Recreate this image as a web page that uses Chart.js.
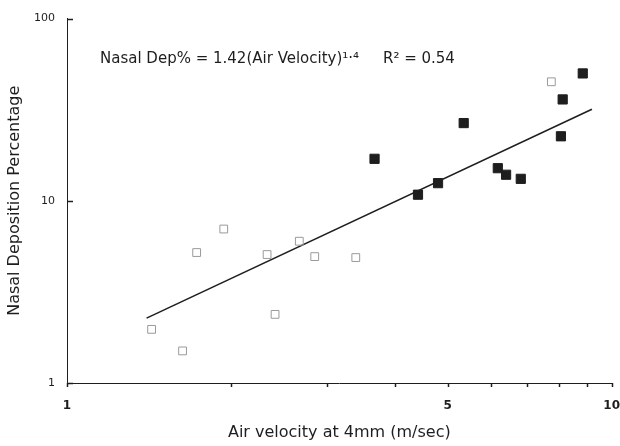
<!DOCTYPE html>
<html>
<head>
<meta charset="utf-8">
<script src="https://cdn.jsdelivr.net/npm/chart.js@4.4.1/dist/chart.umd.min.js"></script>
<style>
  html, body { margin: 0; padding: 0; background: #fff; }
  #wrap { width: 620px; height: 446px; }
</style>
</head>
<body>
<div id="wrap"><canvas id="c" width="620" height="446"></canvas></div>
<script>
// ---- data ----
const filledX = [3.67, 5.35, 4.41, 4.80, 6.18, 6.40, 6.81, 8.13, 8.07, 8.85];
const filledY = [17.0, 26.7, 10.8, 12.5, 15.1, 13.9, 13.2, 36.0, 22.6, 50.0];
const openX = [1.43, 1.63, 1.73, 1.94, 2.33, 2.41, 2.67, 2.85, 3.39, 7.75];
const openY = [1.97, 1.50, 5.2, 7.0, 5.07, 2.38, 6.0, 4.94, 4.88, 45.0];
const trendX = [1.40, 9.20];
const trendY = [2.27, 31.8];
const xTickValues = [1, 2, 3, 4, 5, 6, 7, 8, 9, 10];
const xTickLabels = { 1: '1', 5: '5', 10: '10' };
const yTickValues = [1, 10, 100];
const annotationText = 'Nasal Dep% = 1.42(Air Velocity)\u00B9\u00B7\u2074     R\u00B2 = 0.54';
const xTitle = 'Air velocity at 4mm (m/sec)';
const yTitle = 'Nasal Deposition Percentage';

const toPts = (xs, ys) => xs.map((x, i) => ({ x: x, y: ys[i] }));
const INK = '#1e1e1e';
const FONT = '"DejaVu Sans", Verdana, sans-serif';

const tickPlugin = {
  id: 'tickMarks',
  afterDraw(chart) {
    const ctx = chart.ctx;
    const xs = chart.scales.x, ys = chart.scales.y;
    const area = chart.chartArea;
    ctx.save();
    ctx.strokeStyle = INK;
    ctx.lineWidth = 1.5;
    xTickValues.forEach(v => {
      const px = Math.round(xs.getPixelForValue(v)) + 0.5;
      ctx.beginPath();
      ctx.moveTo(px, area.bottom);
      ctx.lineTo(px, area.bottom + 4);
      ctx.stroke();
    });
    yTickValues.forEach(v => {
      const py = Math.round(ys.getPixelForValue(v)) + 0.5;
      ctx.beginPath();
      ctx.moveTo(area.left, py);
      ctx.lineTo(area.left + 6, py);
      ctx.stroke();
    });
    // annotation
    ctx.fillStyle = INK;
    ctx.font = '15px ' + FONT;
    ctx.textBaseline = 'middle';
    ctx.textAlign = 'left';
    ctx.fillText(annotationText, area.left + 33, area.top + 41);
    ctx.restore();
  }
};

new Chart(document.getElementById('c'), {
  type: 'scatter',
  data: {
    datasets: [
      {
        label: 'trend',
        type: 'line',
        data: toPts(trendX, trendY),
        borderColor: INK,
        borderWidth: 1.5,
        pointRadius: 0,
        fill: false,
        order: 3
      },
      {
        label: 'open',
        data: toPts(openX, openY),
        pointStyle: 'rect',
        pointRadius: 5.5,
        backgroundColor: 'rgba(255,255,255,0)',
        borderColor: '#9a9a9a',
        borderWidth: 1,
        order: 2
      },
      {
        label: 'filled',
        data: toPts(filledX, filledY),
        pointStyle: 'rect',
        pointRadius: 6.5,
        backgroundColor: INK,
        borderColor: INK,
        borderWidth: 1,
        order: 1
      }
    ]
  },
  options: {
    responsive: false,
    animation: false,
    events: [],
    layout: { padding: { top: 17, right: 0, left: 0, bottom: 0 } },
    plugins: { legend: { display: false }, tooltip: { enabled: false } },
    scales: {
      x: {
        type: 'logarithmic',
        min: 1, max: 10,
        afterFit(s) { s.height = 63; },
        afterBuildTicks(s) { s.ticks = xTickValues.map(v => ({ value: v })); },
        grid: { display: true, drawOnChartArea: false, drawTicks: true, tickLength: 16, color: 'rgba(0,0,0,0)' },
        border: { display: true, color: INK, width: 1 },
        ticks: {
          autoSkip: false, maxRotation: 0, padding: 0,
          color: INK,
          font: { family: FONT, size: 12, weight: 'bold' },
          callback: v => xTickLabels[v] || ''
        },
        title: {
          display: true, text: xTitle, color: INK,
          font: { family: FONT, size: 16 },
          padding: { top: 0, bottom: 4 }
        }
      },
      y: {
        type: 'logarithmic',
        min: 1, max: 100,
        afterFit(s) { s.width = 67; },
        afterBuildTicks(s) { s.ticks = yTickValues.map(v => ({ value: v })); },
        grid: { display: false, drawTicks: false },
        border: { display: true, color: INK, width: 1 },
        ticks: {
          autoSkip: false, padding: 12,
          color: INK,
          font: { family: FONT, size: 11 },
          callback: v => String(v)
        },
        title: {
          display: true, text: yTitle, color: INK,
          font: { family: FONT, size: 16 },
          padding: { top: 5, bottom: 0 }
        }
      }
    }
  },
  plugins: [tickPlugin]
});
</script>
</body>
</html>
